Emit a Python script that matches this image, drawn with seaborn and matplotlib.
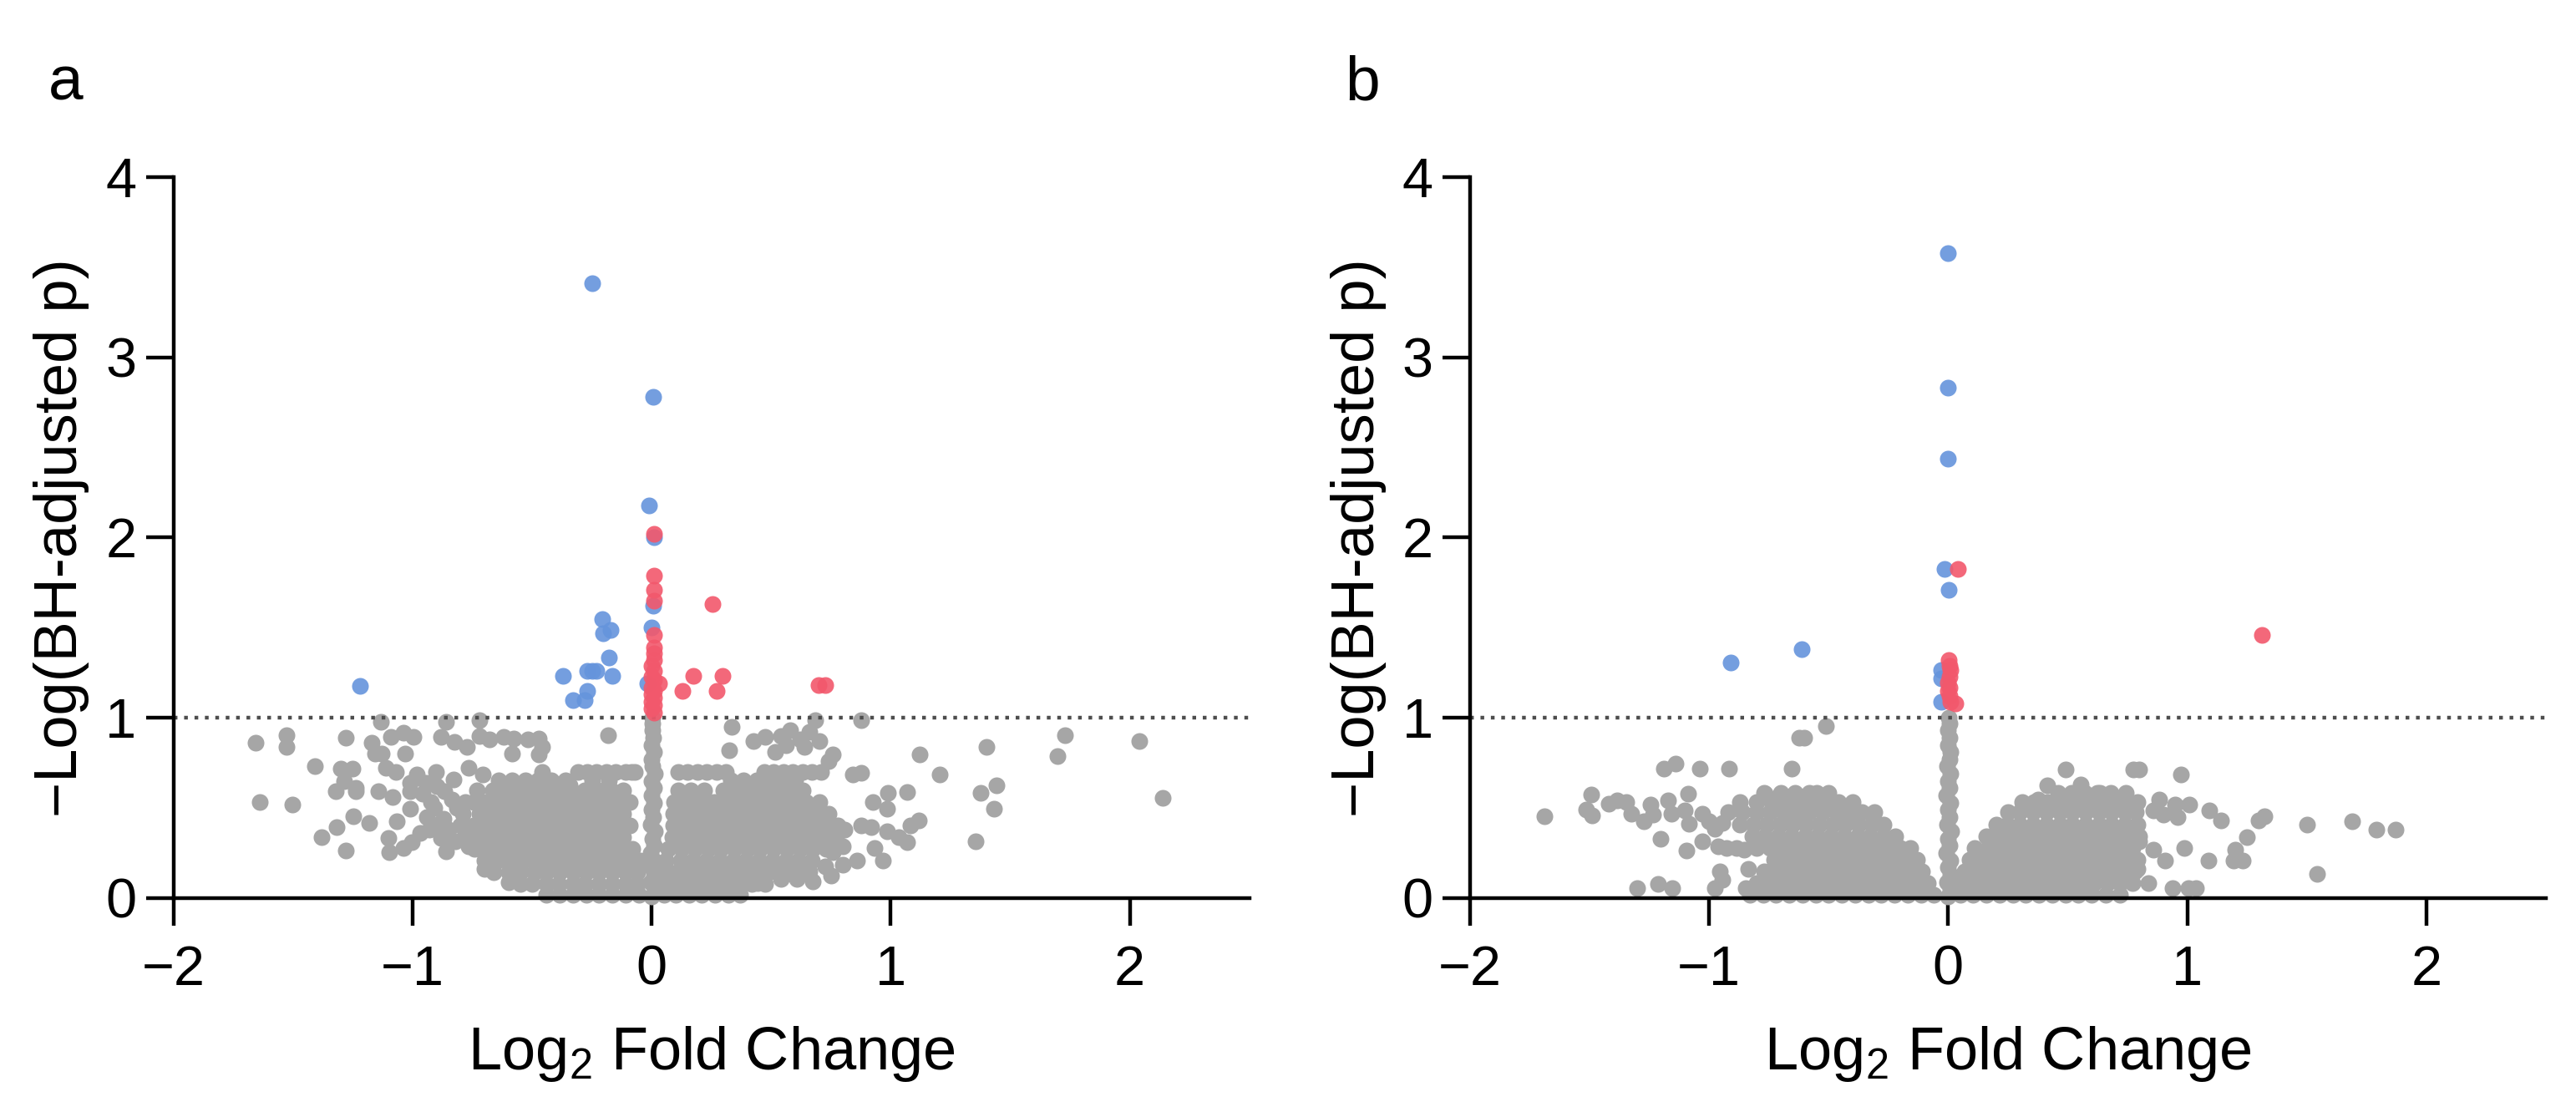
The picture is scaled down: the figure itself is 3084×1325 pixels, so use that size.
import numpy as np
import pandas as pd
import seaborn as sns
import matplotlib.pyplot as plt

# ---- panel a ------------------------------------------------------------
# dense core of non-significant points, read row by row: {-log p : [log2 FC, ...]}
core_a = {
    0.02: [-0.44, -0.385, -0.33, -0.275, -0.22, -0.165, -0.11, -0.055, 0.05, 0.10, 0.155, 0.21, 0.265, 0.32, 0.37],
    0.08: [-0.55, -0.50, -0.44, -0.39, -0.33, -0.28, -0.22, -0.165, -0.11, -0.06, 0.04, 0.09, 0.145, 0.20, 0.255,
           0.31, 0.365, 0.42, 0.475],
    0.145: [-0.66, -0.60, -0.55, -0.49, -0.44, -0.385, -0.33, -0.275, -0.22, -0.165, -0.11, -0.06, 0.05, 0.105,
            0.16, 0.215, 0.27, 0.325, 0.38, 0.435, 0.49, 0.545, 0.60],
    0.21: [-0.70, -0.645, -0.59, -0.535, -0.48, -0.425, -0.37, -0.315, -0.26, -0.205, -0.15, -0.095, -0.05, 0.06,
           0.12, 0.175, 0.23, 0.285, 0.34, 0.395, 0.45, 0.505, 0.56, 0.615, 0.67],
    0.275: [-0.74, -0.685, -0.63, -0.575, -0.52, -0.465, -0.41, -0.355, -0.30, -0.245, -0.19, -0.135, -0.08, 0.07,
            0.125, 0.18, 0.235, 0.29, 0.345, 0.40, 0.455, 0.51, 0.565, 0.62, 0.675, 0.73],
    0.34: [-0.78, -0.72, -0.665, -0.61, -0.555, -0.50, -0.445, -0.39, -0.335, -0.28, -0.225, -0.17, -0.12, 0.085,
           0.11, 0.165, 0.22, 0.275, 0.33, 0.385, 0.44, 0.495, 0.55, 0.605, 0.66, 0.715, 0.77],
    0.405: [-0.80, -0.745, -0.69, -0.635, -0.58, -0.525, -0.47, -0.415, -0.36, -0.305, -0.25, -0.195, -0.14,
            -0.09, 0.09, 0.125, 0.18, 0.235, 0.29, 0.345, 0.40, 0.455, 0.51, 0.565, 0.62, 0.675, 0.73, 0.78],
    0.47: [-0.79, -0.72, -0.665, -0.61, -0.555, -0.50, -0.445, -0.39, -0.335, -0.28, -0.225, -0.17, -0.12, 0.09,
           0.135, 0.19, 0.245, 0.30, 0.355, 0.41, 0.465, 0.52, 0.575, 0.63, 0.685, 0.74],
    0.535: [-0.78, -0.745, -0.69, -0.635, -0.58, -0.525, -0.47, -0.415, -0.36, -0.305, -0.25, -0.195, -0.14,
            -0.09, 0.095, 0.15, 0.205, 0.26, 0.315, 0.37, 0.425, 0.48, 0.535, 0.59, 0.645, 0.70],
    0.60: [-0.73, -0.665, -0.61, -0.555, -0.50, -0.445, -0.39, -0.335, -0.28, -0.225, -0.17, -0.12, 0.11, 0.165,
           0.22, 0.30, 0.355, 0.41, 0.465, 0.52, 0.575, 0.63],
    0.655: [-0.64, -0.585, -0.53, -0.475, -0.42, -0.36, -0.25, -0.18, 0.33, 0.385, 0.44, 0.495, 0.55, 0.60],
    0.70: [-0.31, -0.27, -0.23, -0.19, -0.15, -0.11, -0.07, 0.11, 0.15, 0.19, 0.23, 0.27, 0.31, 0.47, 0.51, 0.55,
           0.59, 0.63, 0.67, 0.71],
}

# column of genes with log2 FC ~ 0
column_a_y = [0.01, 0.05, 0.09, 0.13, 0.17, 0.21, 0.25, 0.29, 0.33, 0.37, 0.41, 0.45, 0.49,
              0.53, 0.57, 0.61, 0.65, 0.69, 0.73, 0.77, 0.81, 0.85, 0.89, 0.93, 0.97, 1.0]
column_a_x = [0.0, 0.012, -0.004, 0.008, 0.0, 0.01, -0.006, 0.008, 0.002, 0.012, -0.004, 0.006, 0.0,
              0.01, -0.002, 0.008, 0.0, 0.012, 0.004, -0.002, 0.008, 0.0, 0.006, 0.002, 0.004, 0.004]

# scattered grey points outside the core
grey_a = [
    (-1.657, 0.864), (-1.527, 0.903), (-1.527, 0.841), (-1.28, 0.89), (-1.132, 0.98), (-1.171, 0.864),
    (-1.09, 0.895), (-1.04, 0.918), (-0.997, 0.895), (-1.157, 0.80), (-1.128, 0.80), (-1.033, 0.80),
    (-0.859, 0.98), (-0.881, 0.895), (-0.826, 0.867), (-0.772, 0.841), (-0.721, 0.988), (-0.721, 0.90),
    (-0.678, 0.88), (-0.62, 0.895), (-0.576, 0.887), (-0.518, 0.88), (-0.474, 0.887), (-0.46, 0.841),
    (-0.474, 0.795), (-0.583, 0.80), (-0.184, 0.903), (-1.408, 0.733), (-1.302, 0.718), (-1.251, 0.718),
    (-1.287, 0.648), (-1.32, 0.594), (-1.237, 0.594), (-1.237, 0.61), (-1.145, 0.594), (-1.084, 0.563),
    (-1.113, 0.725), (-1.07, 0.702), (-1.01, 0.594), (-0.983, 0.687), (-0.946, 0.64), (-1.01, 0.64),
    (-0.903, 0.702), (-0.924, 0.532), (-0.91, 0.50), (-0.866, 0.594), (-0.837, 0.548), (-0.816, 0.50),
    (-1.01, 0.494), (-1.64, 0.532), (-1.505, 0.517), (-1.248, 0.455), (-1.181, 0.417), (-1.065, 0.424),
    (-1.319, 0.393), (-1.382, 0.34), (-1.28, 0.262), (-1.103, 0.332), (-1.098, 0.255), (-1.04, 0.278),
    (-1.004, 0.309), (-0.932, 0.378), (-0.896, 0.409), (-0.881, 0.332), (-0.823, 0.316), (-0.765, 0.285),
    (-0.765, 0.725), (-0.707, 0.687), (-0.46, 0.702), (-0.344, 0.625), (-0.96, 0.58), (-0.94, 0.45),
    (-0.90, 0.62), (-0.87, 0.44), (-0.85, 0.38), (-0.83, 0.66), (-0.86, 0.26), (-0.97, 0.36),
    (-0.70, 0.16), (-0.60, 0.09),
    (0.333, 0.949), (0.683, 0.988), (0.875, 0.988), (0.425, 0.872), (0.475, 0.895), (0.54, 0.90),
    (0.58, 0.93), (0.62, 0.88), (0.66, 0.92), (0.70, 0.87), (0.56, 0.85), (0.64, 0.84), (0.325, 0.818),
    (0.517, 0.81), (0.758, 0.795), (0.74, 0.76), (-0.083, 0.702), (0.842, 0.687), (0.875, 0.694),
    (1.122, 0.795), (1.203, 0.687), (1.40, 0.841), (1.73, 0.906), (1.697, 0.79), (2.04, 0.872),
    (2.138, 0.556), (1.442, 0.625), (1.375, 0.586), (1.433, 0.494), (1.355, 0.316), (0.987, 0.586),
    (1.07, 0.589), (0.925, 0.532), (0.983, 0.494), (1.117, 0.432), (1.083, 0.401), (0.983, 0.37),
    (1.033, 0.34), (1.067, 0.309), (0.875, 0.401), (0.917, 0.393), (0.808, 0.378), (0.80, 0.285),
    (0.933, 0.278), (0.967, 0.208), (0.858, 0.208), (0.80, 0.185), (0.758, 0.255), (0.725, 0.177),
    (0.75, 0.123), (0.658, 0.147), (0.675, 0.093), (0.608, 0.108), (0.542, 0.108), (0.442, 0.085),
]

blue_a = [
    (-0.25, 3.41), (0.007, 2.78), (-0.01, 2.18), (0.01, 2.0), (0.005, 1.62), (0.0, 1.50), (-0.02, 1.19),
    (-0.206, 1.55), (-0.202, 1.47), (-0.173, 1.49), (-0.18, 1.335), (-0.373, 1.235), (-0.27, 1.26),
    (-0.25, 1.26), (-0.23, 1.26), (-0.165, 1.235), (-0.27, 1.15), (-0.33, 1.10), (-0.28, 1.10),
    (-1.222, 1.176),
]
red_a = [
    (0.01, 2.02), (0.01, 1.79), (0.01, 1.71), (0.01, 1.65), (0.01, 1.46), (0.01, 1.39), (0.01, 1.36),
    (0.01, 1.32), (0.0, 1.29), (0.01, 1.26), (0.0, 1.23), (0.01, 1.21), (0.03, 1.19), (0.0, 1.17),
    (0.01, 1.15), (0.0, 1.13), (0.01, 1.11), (0.0, 1.09), (0.01, 1.07), (0.0, 1.05), (0.01, 1.03),
    (0.255, 1.63), (0.175, 1.235), (0.297, 1.235), (0.13, 1.15), (0.27, 1.15), (0.697, 1.18), (0.725, 1.18),
]

# ---- panel b ------------------------------------------------------------
core_b = {
    0.02: [-0.83, -0.775, -0.72, -0.665, -0.61, -0.555, -0.50, -0.445, -0.39, -0.335, -0.28, -0.225, -0.17,
           -0.115, -0.06, 0.05, 0.105, 0.16, 0.215, 0.27, 0.325, 0.38, 0.435, 0.49, 0.545, 0.60, 0.66, 0.72],
    0.085: [-0.80, -0.745, -0.69, -0.635, -0.58, -0.525, -0.47, -0.415, -0.36, -0.305, -0.25, -0.195, -0.14,
            -0.085, 0.06, 0.115, 0.17, 0.225, 0.28, 0.335, 0.39, 0.445, 0.50, 0.555, 0.61, 0.665, 0.72, 0.77],
    0.15: [-0.77, -0.715, -0.66, -0.605, -0.55, -0.495, -0.44, -0.385, -0.33, -0.275, -0.22, -0.165, -0.11,
           0.07, 0.125, 0.18, 0.235, 0.29, 0.345, 0.40, 0.455, 0.51, 0.565, 0.62, 0.675, 0.73, 0.78],
    0.215: [-0.73, -0.675, -0.62, -0.565, -0.51, -0.455, -0.40, -0.345, -0.29, -0.235, -0.18, -0.13, 0.09,
            0.145, 0.20, 0.255, 0.31, 0.365, 0.42, 0.475, 0.53, 0.585, 0.64, 0.695, 0.75, 0.79],
    0.28: [-0.80, -0.745, -0.69, -0.635, -0.58, -0.525, -0.47, -0.415, -0.36, -0.305, -0.25, -0.20, -0.16,
           0.11, 0.165, 0.22, 0.275, 0.33, 0.385, 0.44, 0.495, 0.55, 0.605, 0.66, 0.715, 0.77],
    0.345: [-0.82, -0.765, -0.71, -0.655, -0.60, -0.545, -0.49, -0.435, -0.38, -0.325, -0.27, -0.22, 0.16,
            0.21, 0.265, 0.32, 0.375, 0.43, 0.485, 0.54, 0.595, 0.65, 0.705, 0.76, 0.80],
    0.41: [-0.87, -0.815, -0.76, -0.705, -0.65, -0.595, -0.54, -0.485, -0.43, -0.375, -0.32, -0.27, 0.20,
           0.245, 0.30, 0.355, 0.41, 0.465, 0.52, 0.575, 0.63, 0.685, 0.74, 0.79],
    0.475: [-0.92, -0.86, -0.80, -0.745, -0.69, -0.635, -0.58, -0.525, -0.47, -0.415, -0.36, -0.31, 0.25, 0.30,
            0.355, 0.41, 0.465, 0.52, 0.575, 0.63, 0.685, 0.74, 0.785],
    0.535: [-0.87, -0.80, -0.74, -0.68, -0.625, -0.57, -0.515, -0.46, -0.40, 0.31, 0.36, 0.415, 0.47, 0.525,
            0.58, 0.635, 0.69, 0.735],
    0.585: [-0.77, -0.70, -0.64, -0.58, -0.55, -0.50, 0.46, 0.515, 0.57, 0.625, 0.68],
}

column_b_y = [0.01, 0.05, 0.09, 0.13, 0.17, 0.21, 0.25, 0.29, 0.33, 0.37, 0.41, 0.45, 0.49,
              0.53, 0.57, 0.61, 0.65, 0.69, 0.73, 0.77, 0.81, 0.85, 0.89, 0.93, 0.97, 1.0]
column_b_x = [0.0, 0.01, -0.006, 0.008, -0.002, 0.01, -0.008, 0.006, 0.0, 0.012, -0.006, 0.004, -0.002,
              0.01, -0.008, 0.006, 0.0, 0.01, -0.004, 0.004, 0.008, -0.002, 0.006, 0.0, 0.004, 0.002]

grey_b = [
    (-0.512, 0.957), (-0.623, 0.89), (-0.601, 0.89), (-0.655, 0.718), (-0.917, 0.718), (-1.039, 0.718),
    (-1.191, 0.718), (-1.141, 0.748), (-1.493, 0.574), (-1.087, 0.579), (-0.768, 0.579), (-1.688, 0.455),
    (-1.514, 0.489), (-1.49, 0.458), (-1.42, 0.525), (-1.384, 0.54), (-1.348, 0.532), (-1.326, 0.47),
    (-1.246, 0.517), (-1.275, 0.427), (-1.235, 0.463), (-1.171, 0.54), (-1.159, 0.47), (-1.101, 0.486),
    (-1.084, 0.412), (-1.029, 0.47), (-1.0, 0.424), (-0.978, 0.386), (-0.945, 0.417), (-1.203, 0.327),
    (-1.094, 0.262), (-1.029, 0.316), (-0.964, 0.285), (-0.928, 0.278), (-0.884, 0.278), (-0.855, 0.27),
    (-0.836, 0.162), (-0.954, 0.147), (-0.945, 0.103), (-1.301, 0.054), (-1.214, 0.077), (-1.155, 0.054),
    (-0.978, 0.054), (-0.848, 0.054),
    (0.492, 0.714), (0.775, 0.714), (0.80, 0.714), (0.975, 0.687), (0.413, 0.625), (0.555, 0.628),
    (0.633, 0.582), (0.742, 0.582), (0.792, 0.532), (0.883, 0.548), (0.95, 0.517), (1.008, 0.517),
    (0.858, 0.486), (0.9, 0.463), (0.958, 0.448), (1.092, 0.486), (1.142, 0.432), (1.3, 0.432),
    (1.322, 0.455), (1.5, 0.409), (1.688, 0.427), (1.792, 0.378), (1.872, 0.378), (1.25, 0.34),
    (0.988, 0.278), (0.858, 0.27), (0.908, 0.208), (1.088, 0.208), (1.2, 0.27), (1.192, 0.208),
    (1.233, 0.208), (1.542, 0.134), (0.838, 0.085), (0.938, 0.054), (1.005, 0.054), (1.038, 0.054),
    (0.375, 0.548), (0.742, 0.332), (0.8, 0.316), (0.792, 0.162),
]

blue_b = [
    (0.0, 3.58), (0.0, 2.83), (0.0, 2.44), (-0.014, 1.826), (0.003, 1.71), (-0.612, 1.381), (-0.91, 1.307),
    (-0.03, 1.265), (-0.03, 1.22), (-0.03, 1.088),
]
red_b = [
    (0.04, 1.826), (0.003, 1.32), (0.005, 1.29), (0.01, 1.265), (0.005, 1.23), (0.0, 1.196), (0.005, 1.17),
    (0.0, 1.15), (0.005, 1.12), (0.01, 1.088), (0.03, 1.08), (1.312, 1.458),
]

GREY = "#a6a6a6"
BLUE = "#6594dc"
RED = "#f2586c"
SIZE = 52


def grey_frame(core, col_x, col_y, extra):
    xs, ys = [], []
    for y, row in core.items():
        xs += row
        ys += [y] * len(row)
    xs += col_x
    ys += col_y
    xs += [p[0] for p in extra]
    ys += [p[1] for p in extra]
    return pd.DataFrame({"lfc": xs, "logp": ys})


def pts_frame(pts):
    return pd.DataFrame(pts, columns=["lfc", "logp"])


def volcano(ax, grey, blue, red, letter):
    sns.scatterplot(data=grey, x="lfc", y="logp", color=GREY, s=SIZE, linewidth=0,
                    ax=ax, clip_on=False, zorder=1)
    ax.axhline(1.0, color="#4d4d4d", lw=1.6, ls=(0, (1, 1.8)), zorder=1.5)
    sns.scatterplot(data=blue, x="lfc", y="logp", color=BLUE, s=SIZE, linewidth=0,
                    alpha=0.9, ax=ax, zorder=3)
    sns.scatterplot(data=red, x="lfc", y="logp", color=RED, s=SIZE, linewidth=0,
                    alpha=0.9, ax=ax, zorder=4)

    ax.set_xlim(-2, 2.5)
    ax.set_ylim(0, 4)
    ax.set_xticks([-2, -1, 0, 1, 2])
    ax.set_yticks([0, 1, 2, 3, 4])
    sns.despine(ax=ax)
    for side in ["left", "bottom"]:
        ax.spines[side].set_linewidth(1.6)
        ax.spines[side].set_color("black")
    ax.tick_params(axis="both", length=12, width=1.6, color="black", labelcolor="black", labelsize=24)
    ax.tick_params(axis="x", pad=8)
    ax.tick_params(axis="y", pad=4)

    ax.set_xlabel("Log$_2$ Fold Change", fontsize=26, color="black")
    ax.set_ylabel("\u2212Log(BH-adjusted p)", fontsize=26, color="black")
    ax.xaxis.set_label_coords(0.5, -0.175)
    ax.yaxis.set_label_coords(-0.078, 0.5)
    ax.text(-0.1, 1.13, letter, transform=ax.transAxes, fontsize=27, va="center", ha="center",
            color="black")


sns.set_theme(style="ticks")
plt.rcParams["font.family"] = ["Liberation Sans", "DejaVu Sans"]
plt.rcParams["mathtext.default"] = "regular"
plt.rcParams["text.color"] = "black"

fig = plt.figure(figsize=(15.42, 6.625), dpi=200)
ax_a = fig.add_axes([0.0674, 0.1887, 0.4176, 0.6513])
ax_b = fig.add_axes([0.5707, 0.1887, 0.4176, 0.6513])

volcano(ax_a, grey_frame(core_a, column_a_x, column_a_y, grey_a), pts_frame(blue_a), pts_frame(red_a), "a")
volcano(ax_b, grey_frame(core_b, column_b_x, column_b_y, grey_b), pts_frame(blue_b), pts_frame(red_b), "b")

fig.savefig("out.png", dpi=200, facecolor="white")
